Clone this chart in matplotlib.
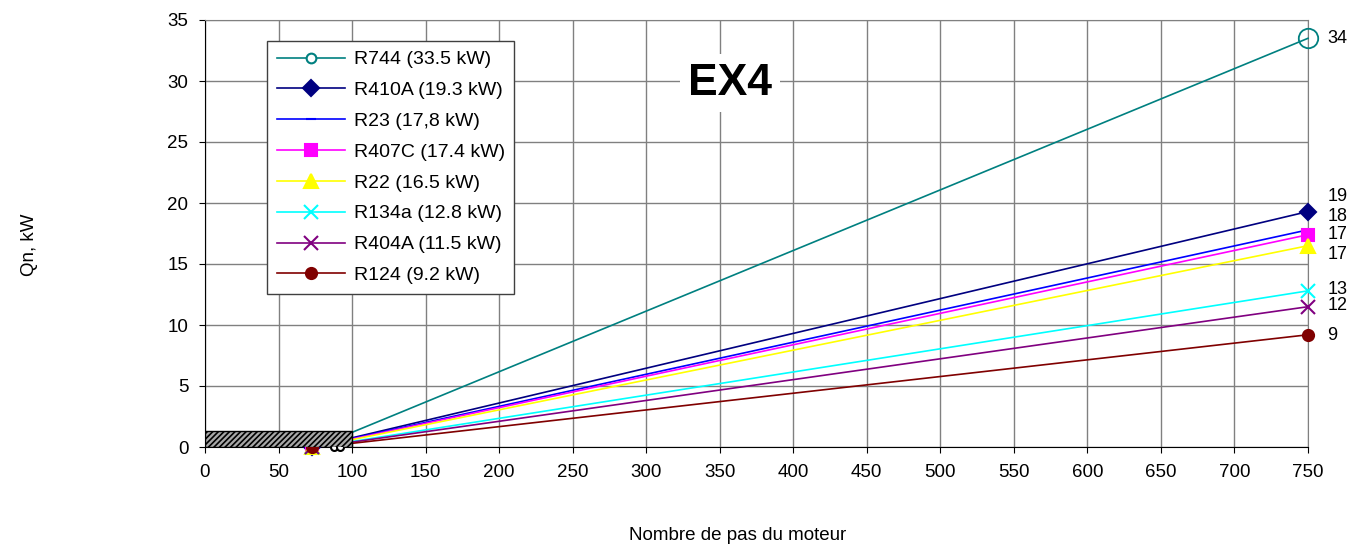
import matplotlib
matplotlib.use("Agg")
import matplotlib.pyplot as plt
from matplotlib.patches import Rectangle

plt.rcParams['font.family'] = ['Liberation Sans', 'DejaVu Sans']
plt.rcParams['hatch.linewidth'] = 1.2

# Data
names = ["R744 (33.5 kW)", "R410A (19.3 kW)", "R23 (17,8 kW)", "R407C (17.4 kW)",
         "R22 (16.5 kW)", "R134a (12.8 kW)", "R404A (11.5 kW)", "R124 (9.2 kW)"]
steps = [73, 100, 750]
q_start = [0, 0, 0, 0, 0, 0, 0, 0]
q_100 = [1.2, 0.75, 0.7, 0.65, 0.6, 0.45, 0.4, 0.3]
q_max = [33.5, 19.3, 17.8, 17.4, 16.5, 12.8, 11.5, 9.2]
end_labels = ["34", "19", "18", "17", "17", "13", "12", "9"]
label_y = [33.5, 20.5, 18.9, 17.4, 15.8, 12.9, 11.6, 9.1]
black_steps = [88, 92]
black_q = [0, 0]
hatch_steps = [0, 100]
hatch_q = 1.3

colors = ["#008080", "#000080", "#0000FF", "#FF00FF", "#FFFF00", "#00FFFF", "#800080", "#800000"]
markers = ["o", "D", "_", "s", "^", "x", "x", "o"]
msizes = [7, 8, 7, 8, 10, 10, 10, 8]
mfcs = ["white", None, None, None, None, None, None, None]
FS = 13.5

fig = plt.figure(figsize=(13.66, 5.47), dpi=100)
ax = fig.add_axes([205/1366, 1-447/547, (1308-205)/1366, (447-20)/547])

for i in range(len(names)):
    ys = [q_start[i], q_100[i], q_max[i]]
    kw = dict(color=colors[i], marker=markers[i], markersize=msizes[i], lw=1.2,
              label=names[i], clip_on=False, zorder=3, markeredgewidth=1.5,
              markevery=[0] if i == 0 else [0, 2])
    if mfcs[i]:
        kw['markerfacecolor'] = mfcs[i]
    ax.plot(steps, ys, **kw)

# larger open circle at R744 end
ax.plot([steps[-1]], [q_max[0]], marker='o', ms=14, mfc='none', mec=colors[0], mew=1.3,
        ls='none', clip_on=False, zorder=4)

ax.plot(black_steps, black_q, ls='none', marker='o', ms=5, mfc='white', mec='black',
        mew=1.5, clip_on=False, zorder=3)

ax.add_patch(Rectangle((hatch_steps[0], 0), hatch_steps[1]-hatch_steps[0], hatch_q,
                       facecolor='#a8a8a8', edgecolor='black', hatch='//////', lw=1.0,
                       zorder=5))

for lab, y in zip(end_labels, label_y):
    ax.annotate(lab, xy=(750, y), xytext=(14, 0), textcoords='offset points',
                ha='left', va='center', fontsize=13, annotation_clip=False)

ax.set_xlim(0, 750)
ax.set_ylim(0, 35)
ax.set_xticks(range(0, 751, 50))
ax.set_yticks(range(0, 36, 5))
ax.tick_params(labelsize=FS, length=4, direction='out', color='black')
ax.tick_params(axis='x', pad=8)
ax.tick_params(axis='y', pad=8)
ax.grid(True, color='#808080', lw=1.0)
ax.set_axisbelow(True)
for s in ['top', 'right']:
    ax.spines[s].set_color('#808080')
for s in ['left', 'bottom']:
    ax.spines[s].set_color('black')

ax.text(357, 29.8, "EX4", fontsize=32, fontweight='bold', ha='center', va='center',
        bbox=dict(facecolor='white', edgecolor='none', pad=6), zorder=6)

fig.text(30/1366, 1-245/547, "Qn, kW", rotation=90, ha='center', va='center', fontsize=FS)
fig.text(738/1366, 1-535/547, "Nombre de pas du moteur", ha='center', va='center', fontsize=FS)

leg = ax.legend(loc='upper left', bbox_to_anchor=((267-205)/1103, 1-(41-20)/427),
                fontsize=14, frameon=True, fancybox=False, edgecolor='#404040',
                framealpha=1, borderpad=0.5, labelspacing=0.68, handlelength=3.5,
                handletextpad=0.45, borderaxespad=0)
leg.get_frame().set_linewidth(1.0)
leg.set_zorder(7)

fig.savefig("out.png", dpi=100)
